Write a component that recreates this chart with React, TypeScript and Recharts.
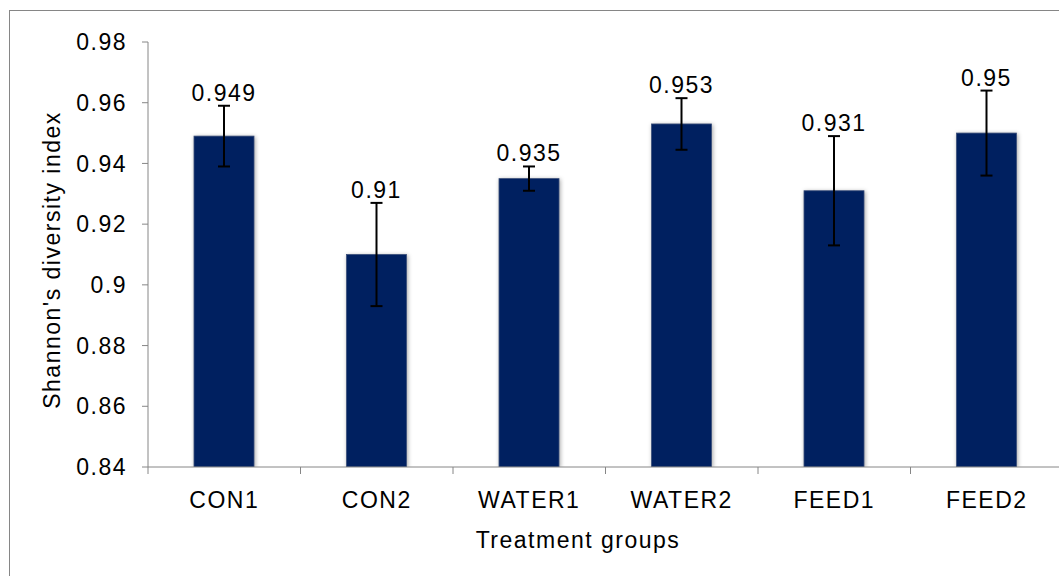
import React from 'react';
import { BarChart, Bar, XAxis, YAxis, ErrorBar, LabelList, Label } from 'recharts';

// Shannon's diversity index per treatment group (mean ± error)
const groups = ['CON1', 'CON2', 'WATER1', 'WATER2', 'FEED1', 'FEED2'];
const shannon = [0.949, 0.91, 0.935, 0.953, 0.931, 0.95];
const errors = [0.01, 0.017, 0.004, 0.0085, 0.018, 0.014];
const yTicks = [0.84, 0.86, 0.88, 0.9, 0.92, 0.94, 0.96, 0.98];

const data = groups.map((g, i) => ({ name: g, value: shannon[i], err: errors[i] }));

const FONT = '"Liberation Sans", Arial, sans-serif';
const AXIS = '#868686';
const NAVY = '#002060';

// layout
const W = 1100;
const H = 576;
const PLOT_LEFT = 148;
const PLOT_TOP = 42;
const PLOT_BOTTOM = 467;
const PLOT_RIGHT = 1063;
const X_AXIS_H = 60;
const BAND = (PLOT_RIGHT - PLOT_LEFT) / groups.length;
const PX_PER_UNIT = (PLOT_BOTTOM - PLOT_TOP) / (0.98 - 0.84);

const textStyle = { fontFamily: FONT, fontSize: 23, letterSpacing: 1.5, fill: '#000' };

const YTick = (props: any) => {
  const { x, y, payload } = props;
  return (
    <text x={x} y={y} dy="0.355em" textAnchor="end" style={textStyle}>
      {String(payload.value)}
    </text>
  );
};

const XTick = (props: any) => {
  const { x, payload, index } = props;
  return (
    <g>
      <line x1={x - BAND / 2} y1={PLOT_BOTTOM} x2={x - BAND / 2} y2={PLOT_BOTTOM + 7} stroke={AXIS} />
      {index === groups.length - 1 && (
        <line x1={x + BAND / 2} y1={PLOT_BOTTOM} x2={x + BAND / 2} y2={PLOT_BOTTOM + 7} stroke={AXIS} />
      )}
      <text x={x} y={508} textAnchor="middle" style={textStyle}>
        {payload.value}
      </text>
    </g>
  );
};

const ValueLabel = (props: any) => {
  const { x, y, width, value, index } = props;
  const top = y - errors[index] * PX_PER_UNIT;
  return (
    <text x={x + width / 2} y={top - 5} textAnchor="middle" style={textStyle}>
      {value}
    </text>
  );
};

const BarShape = (props: any) => {
  const { x, y, width, height } = props;
  return (
    <rect
      x={x}
      y={y}
      width={width}
      height={height}
      fill={NAVY}
      stroke="#3a4f7a"
      strokeWidth={0.8}
      style={{ filter: 'drop-shadow(1px 1px 2px rgba(0,0,0,0.35))' }}
    />
  );
};

export default function App() {
  return (
    <div style={{ position: 'absolute', left: 0, top: 0, width: 1059, height: 576, overflow: 'hidden', background: '#fff' }}>
      <div
        style={{
          position: 'absolute',
          left: 9,
          top: 10,
          width: 1200,
          height: 700,
          border: `1px solid ${AXIS}`,
        }}
      />
      <div style={{ position: 'absolute', left: 0, top: 0 }}>
        <BarChart
          width={W}
          height={H}
          data={data}
          margin={{ top: PLOT_TOP, right: W - PLOT_RIGHT, bottom: H - PLOT_BOTTOM - X_AXIS_H, left: 0 }}
        >
          <XAxis
            dataKey="name"
            height={X_AXIS_H}
            axisLine={{ stroke: AXIS }}
            tickLine={false}
            tick={<XTick />}
            interval={0}
          >
            <Label
              content={() => (
                <text x={578} y={548} textAnchor="middle" style={textStyle}>
                  Treatment groups
                </text>
              )}
            />
          </XAxis>
          <YAxis
            width={PLOT_LEFT}
            domain={[0.84, 0.98]}
            ticks={yTicks}
            allowDataOverflow
            axisLine={{ stroke: AXIS }}
            tickLine={{ stroke: AXIS }}
            tickSize={6}
            tickMargin={15}
            tick={<YTick />}
          >
            <Label
              content={() => (
                <text
                  x={52}
                  y={260}
                  transform="rotate(-90 52 260)"
                  textAnchor="middle"
                  dominantBaseline="central"
                  style={textStyle}
                >
                  Shannon's diversity index
                </text>
              )}
            />
          </YAxis>
          <Bar dataKey="value" barSize={60} fill={NAVY} shape={<BarShape />} isAnimationActive={false}>
            <ErrorBar dataKey="err" width={6} stroke="#000" strokeWidth={2} />
            <LabelList dataKey="value" content={<ValueLabel />} />
          </Bar>
        </BarChart>
      </div>
    </div>
  );
}
